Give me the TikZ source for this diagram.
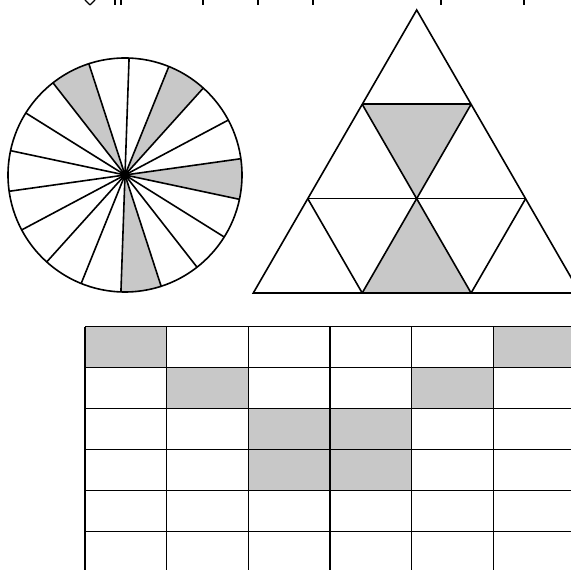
\documentclass[tikz,border=0pt]{standalone}
\begin{document}
\begin{tikzpicture}[x=1pt,y=1pt,
  edge/.style={draw=black,line width=1.6pt,line join=miter},
  shade/.style={fill=shadegray},
  frag/.style={draw=black,line width=1.4pt}]
\definecolor{shadegray}{RGB}{200,200,200}
\useasboundingbox (0,0) rectangle (571,570);
\clip (0,0) rectangle (571,570);
% --- top text fragments (cut off)
\draw[frag] (85,570) -- (90,565) (95,570) -- (90,565);
\draw[frag] (115,570) -- (115,565) (121,570) -- (121,565);
\foreach \x in {203,258,313,441,524} \draw[frag] (\x,570) -- (\x,565);
% --- circle
\coordinate (c) at (125,395);
\def\R{117}
\foreach \a in {-12,48,108,268}
  \fill[shade] (c) -- ++(\a:\R) arc[start angle=\a,end angle=\a+20,radius=\R] -- cycle;
\foreach \k in {0,...,17}
  \draw[edge] (c) -- ++({8+20*\k}:\R);
\draw[edge] (c) circle[radius=\R];
\fill (c) circle[radius=5];
% --- triangle
\coordinate (A) at (416.7,560);
\coordinate (L1) at (362.2,465.7); \coordinate (R1) at (471.1,465.7);
\coordinate (L2) at (307.8,371.3); \coordinate (M2) at (416.7,371.3); \coordinate (R2) at (525.6,371.3);
\coordinate (B0) at (253.3,277); \coordinate (B1) at (362.2,277); \coordinate (B2) at (471.1,277); \coordinate (B3) at (580,277);
\fill[shade] (L1) -- (R1) -- (M2) -- cycle;
\fill[shade] (M2) -- (B1) -- (B2) -- cycle;
\draw[edge] (A) -- (B0) -- (B3) -- cycle;
\draw[edge] (L1) -- (R1) (L2) -- (R2);
\draw[edge] (B1) -- (R1) (B2) -- (R2);
\draw[edge] (B2) -- (L1) (B1) -- (L2);
% --- grid
\def\gx{85} \def\gw{81.67} \def\gt{243.3} \def\gh{41}
\foreach \c/\r in {0/0,5/0,1/1,4/1,2/2,3/2,2/3,3/3}
  \fill[shade] ({\gx+\c*\gw},{\gt-\r*\gh}) rectangle ({\gx+(\c+1)*\gw},{\gt-(\r+1)*\gh});
\foreach \r in {0,...,6}
  \draw[edge] (\gx,{\gt-\r*\gh}) -- (580,{\gt-\r*\gh});
\foreach \c in {0,...,6}
  \draw[edge] ({\gx+\c*\gw},\gt) -- ({\gx+\c*\gw},-10);
\end{tikzpicture}
\end{document}
